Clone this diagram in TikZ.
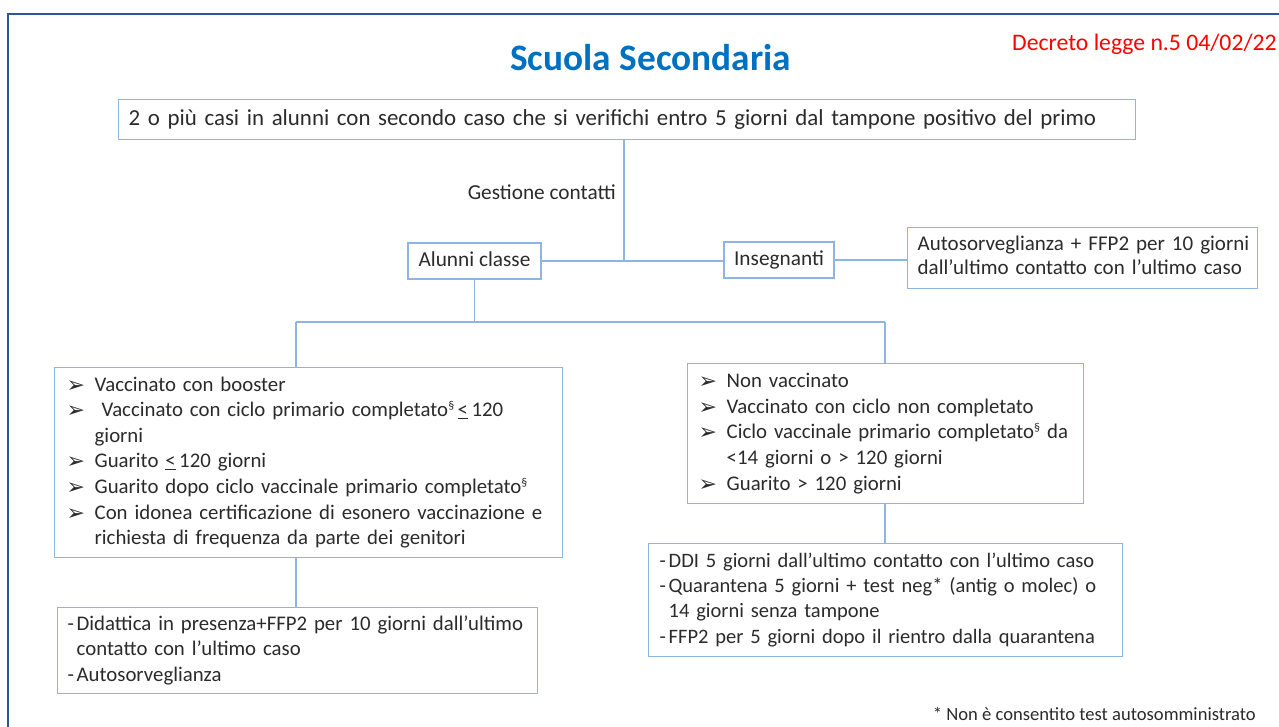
\documentclass[tikz,border=0pt]{standalone}
\usepackage{fontspec}
\setmainfont{Carlito}
\newfontfamily\dingfont{DejaVu Sans}
\definecolor{boxblue}{HTML}{8EB4E3}
\definecolor{titleblue}{HTML}{0070C0}
\definecolor{frameblue}{HTML}{2F5597}
\definecolor{lawred}{HTML}{FF0000}
\definecolor{bodygray}{HTML}{2B2B2B}
\newcommand\bodysize{\fontsize{21.3}{25.6}\selectfont}
\newcommand\listsize{\fontsize{20.8}{25.6}\selectfont}
\newcommand\arrowsym{\makebox[28pt][l]{\raisebox{-1pt}{\dingfont\fontsize{22}{22}\selectfont ➢}}}
\newcommand\dashsym{\makebox[9pt][l]{-}}
\newcommand\secmark{\raisebox{7pt}{\fontsize{12}{12}\selectfont §}}
\begin{document}
\begin{tikzpicture}[x=1pt,y=-1pt]
 \tikzset{flow box/.style={
    draw=boxblue, line width=1.4pt, fill=white,
    text=bodygray, font=\listsize,
    inner xsep=#1, inner ysep=0pt,
    align=left, anchor=north west
  },
  flow box/.default=10pt,
  label box/.style={flow box=0pt, font=\bodysize, anchor=center, align=center, minimum height=36pt},
  link/.style={draw=boxblue, line width=1.4pt}
}
\clip (0,0) rectangle (1279,727);
\draw[frameblue, line width=2.5pt] (8,14) rectangle (1300,760);

\node[anchor=base, text=titleblue, font=\fontsize{37.3}{40}\selectfont\bfseries] (title) at (650.5,71) {Scuola Secondaria};
\node[anchor=base west, text=lawred, font=\fontsize{23.7}{26}\selectfont, inner sep=0pt] (decree) at (1012,51) {Decreto legge n.5 04/02/22};

\node[flow box, text width=997pt, minimum height=40pt, font=\fontsize{22.9}{28}\selectfont] (cases) at (118,99)
  {\mbox{\strut 2 o più casi in alunni con secondo caso che si verifichi entro 5 giorni dal tampone positivo del primo}};
\node[anchor=base east, text=bodygray, font=\bodysize, inner sep=0pt] (contacts) at (616,200) {Gestione contatti};

\node[label box, minimum width=133pt] (pupils) at (474.5,261) {\raisebox{-1.5pt}{\strut Alunni classe}};
\node[label box, minimum width=110pt] (teachers) at (779,260) {\raisebox{-1.5pt}{\strut Insegnanti}};
\node[flow box, text width=330pt, minimum height=61pt, font=\fontsize{21}{24}\selectfont] (teachrule) at (907,227) {%
  \begin{tabular}{@{}l@{}}
  Autosorveglianza + FFP2 per 10 giorni\\
  dall’ultimo contatto con l’ultimo caso
  \end{tabular}};

\node[flow box=12pt, text width=484pt, minimum height=190pt] (leftlist) at (54,367) {%
  \begin{tabular}{@{}l@{}l@{}}
  \arrowsym & Vaccinato con booster\\
  \arrowsym & \ Vaccinato con ciclo primario completato\secmark\,\underline{<}\,120\\
            & giorni\\
  \arrowsym & Guarito \underline{<}\,120 giorni\\
  \arrowsym & Guarito dopo ciclo vaccinale primario completato\secmark\\
  \arrowsym & Con idonea certificazione di esonero vaccinazione e\\
            & richiesta di frequenza da parte dei genitori
  \end{tabular}};
\node[flow box=11pt, text width=374pt, minimum height=140pt] (rightlist) at (687,363) {%
  \begin{tabular}{@{}l@{}l@{}}
  \arrowsym & Non vaccinato\\
  \arrowsym & Vaccinato con ciclo non completato\\
  \arrowsym & Ciclo vaccinale primario completato\secmark\ da\\
            & <14 giorni o > 120 giorni\\
  \arrowsym & Guarito > 120 giorni
  \end{tabular}};

\node[flow box=10pt, text width=460pt, minimum height=86pt] (leftout) at (57,607) {%
  \begin{tabular}{@{}l@{}l@{}}
  \dashsym & Didattica in presenza+FFP2 per 10 giorni dall’ultimo\\
           & contatto con l’ultimo caso\\
  \dashsym & Autosorveglianza
  \end{tabular}};
\node[flow box=11pt, text width=452pt, minimum height=113pt, font=\fontsize{20.5}{25.3}\selectfont] (rightout) at (648,543) {%
  \begin{tabular}{@{}l@{}l@{}}
  \dashsym & DDI 5 giorni dall’ultimo contatto con l’ultimo caso\\
  \dashsym & Quarantena 5 giorni + test neg* (antig o molec) o\\
           & 14 giorni senza tampone\\
  \dashsym & FFP2 per 5 giorni dopo il rientro dalla quarantena
  \end{tabular}};

\node[anchor=base east, text=bodygray, font=\fontsize{18.6}{20}\selectfont, inner sep=0pt] (footnote) at (1256,720)
  {* Non è consentito test autosomministrato};

% connectors
\coordinate (hub) at (624,261);
\coordinate (forkl) at (296,322);
\coordinate (forkr) at (885,322);
\draw[link] (cases.south -| hub) -- (hub);
\draw[link] (pupils.east) -- (pupils.east -| teachers.west);
\draw[link] (teachers.east) -- (teachers.east -| teachrule.west);
\draw[link] (pupils.south) -- (pupils.south |- forkl);
\draw[link] (forkl) -- (forkr);
\draw[link] (forkl) -- (forkl |- leftlist.north);
\draw[link] (forkr) -- (forkr |- rightlist.north);
\draw[link] (forkl |- leftlist.south) -- (forkl |- leftout.north);
\draw[link] (forkr |- rightlist.south) -- (forkr |- rightout.north);
\end{tikzpicture}
\end{document}
